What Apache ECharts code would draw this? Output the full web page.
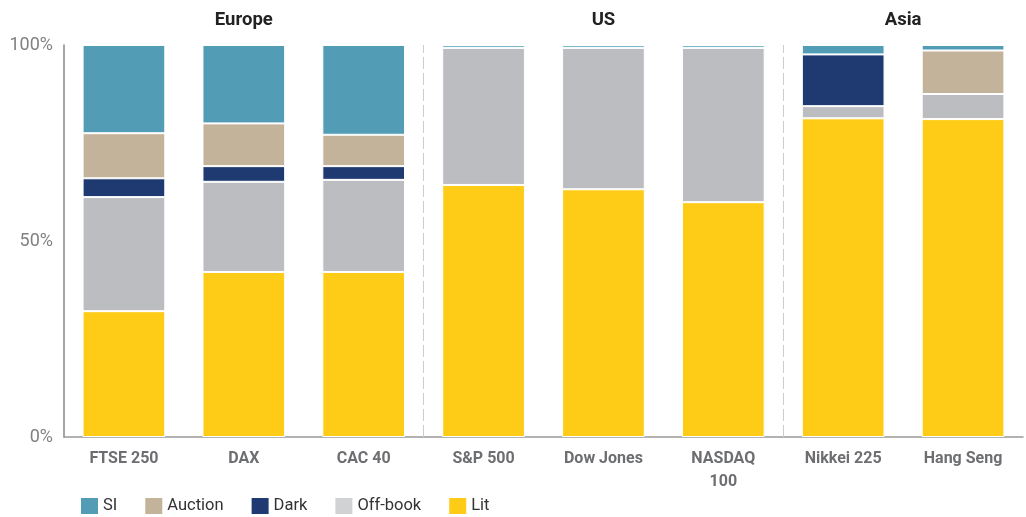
<!DOCTYPE html>
<html>
<head>
<meta charset="utf-8">
<script src="https://cdn.jsdelivr.net/npm/echarts@6/dist/echarts.min.js"></script>
<style>
html,body{margin:0;padding:0;background:#fff;}
#chart{width:1026px;height:517px;}
</style>
</head>
<body>
<div id="chart"></div>
<script>
// ---- data ----
const categories = ['FTSE 250', 'DAX', 'CAC 40', 'S&P 500', 'Dow Jones', 'NASDAQ\n100', 'Nikkei 225', 'Hang Seng'];
const groupNames = ['Europe', 'US', 'Asia'];
const groupSizes = [3, 3, 2];
const lit     = [32.1, 42.1, 42.1, 64.3, 63.2, 59.9, 81.3, 81.1];
const offBook = [29.1, 23.0, 23.5, 35.0, 36.1, 39.4, 3.1, 6.4];
const dark    = [4.8, 4.0, 3.5, 0, 0, 0, 13.2, 0];
const auction = [11.5, 10.9, 8.0, 0, 0, 0, 0, 11.1];
const si      = [22.5, 20.0, 22.9, 0.7, 0.7, 0.7, 2.4, 1.4];
const yTicks = [0, 50, 100];

// ---- derived ----
const groupCenters = [];
const boundaries = [];
let acc = 0;
groupSizes.forEach((n, i) => {
  groupCenters.push(acc + n / 2);
  acc += n;
  if (i < groupSizes.length - 1) boundaries.push(acc);
});

const colors = {
  SI: '#529db5',
  Auction: '#c4b39b',
  Dark: '#1f3a70',
  'Off-book': '#bcbdc0',
  Lit: '#fecb17'
};

function barSeries(name, data) {
  return {
    name: name,
    type: 'bar',
    stack: 'total',
    xAxisIndex: 0,
    yAxisIndex: 0,
    barWidth: '69%',
    data: data,
    itemStyle: { color: colors[name], borderColor: '#ffffff', borderWidth: 1 },
    emphasis: { disabled: true }
  };
}

const chart = echarts.init(document.getElementById('chart'), null, { renderer: 'canvas' });
chart.setOption({
  animation: false,
  textStyle: { fontFamily: 'Roboto, sans-serif' },
  grid: { left: 64, top: 45, width: 960, height: 392, containLabel: false },
  legend: {
    left: 74,
    top: 491,
    icon: 'rect',
    itemWidth: 19,
    itemHeight: 18,
    itemGap: 26,
    textStyle: { fontSize: 16.5, color: '#333333', padding: [0, 0, 0, -1] },
    data: [
      { name: 'SI' },
      { name: 'Auction' },
      { name: 'Dark' },
      { name: 'Off-book', itemStyle: { color: '#d1d2d4' } },
      { name: 'Lit' }
    ]
  },
  xAxis: [
    {
      type: 'category',
      data: categories,
      position: 'bottom',
      axisLine: { show: true, lineStyle: { color: '#999999', width: 1.5 } },
      axisTick: { show: false },
      axisLabel: {
        interval: 0,
        margin: 10,
        fontSize: 16,
        fontWeight: 'bold',
        color: '#6d6e71',
        lineHeight: 23
      }
    },
    {
      type: 'value',
      min: 0,
      max: categories.length,
      interval: 0.5,
      position: 'top',
      axisLine: { show: false },
      axisTick: { show: false },
      splitLine: { show: false },
      axisLabel: {
        margin: 15,
        fontSize: 18.5,
        fontWeight: 'bold',
        color: '#222222',
        showMinLabel: true,
        showMaxLabel: true,
        formatter: function (v) {
          const idx = groupCenters.indexOf(v);
          return idx >= 0 ? groupNames[idx] : '';
        }
      }
    }
  ],
  yAxis: {
    type: 'value',
    min: 0,
    max: 100,
    interval: 50,
    axisLine: { show: true, lineStyle: { color: '#888888', width: 1.5 } },
    axisTick: { show: false },
    splitLine: { show: false },
    axisLabel: {
      margin: 11,
      fontSize: 18,
      color: '#808080',
      padding: [6, 0, 0, 0],
      formatter: function (v) { return yTicks.indexOf(v) >= 0 ? v + '%' : ''; }
    }
  },
  series: [
    barSeries('Lit', lit),
    barSeries('Off-book', offBook),
    barSeries('Dark', dark),
    barSeries('Auction', auction),
    barSeries('SI', si),
    {
      name: 'separators',
      type: 'line',
      xAxisIndex: 1,
      yAxisIndex: 0,
      data: [],
      silent: true,
      markLine: {
        symbol: 'none',
        silent: true,
        label: { show: false },
        lineStyle: { color: '#cccccc', type: [12, 4], width: 1 },
        data: boundaries.map(b => ({ xAxis: b }))
      }
    }
  ]
});
</script>
</body>
</html>
